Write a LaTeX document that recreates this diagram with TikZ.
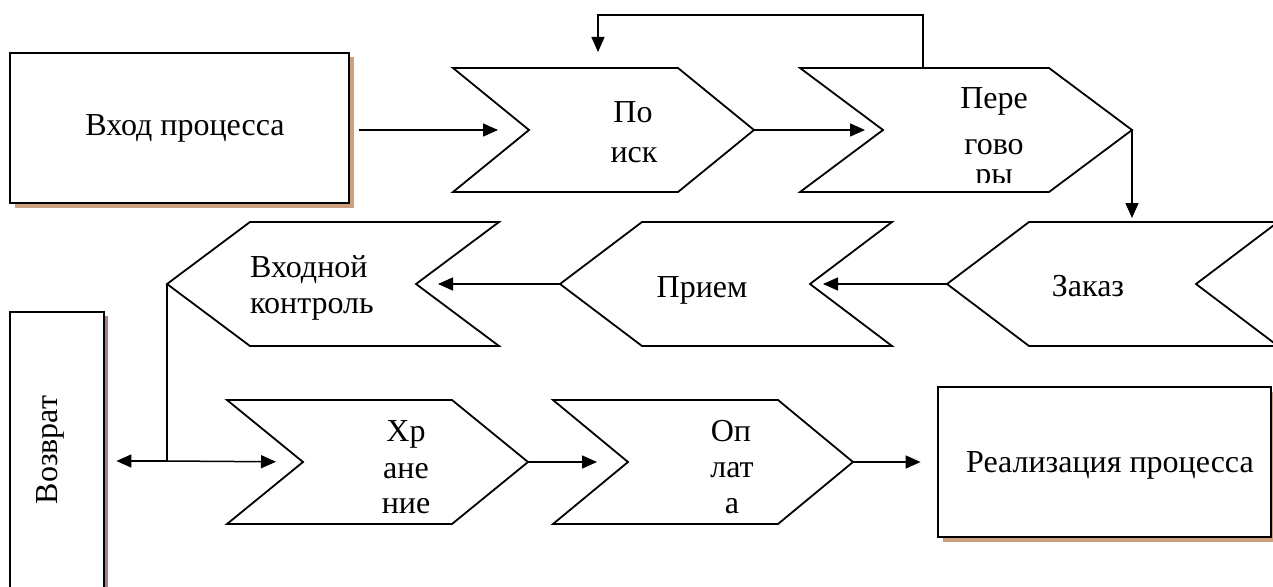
\documentclass[tikz,border=0pt]{standalone}
\usepackage{fontspec}
\setmainfont{Liberation Serif}
\usetikzlibrary{arrows.meta,shadows}
\definecolor{shadowtan}{RGB}{205,160,128}
\definecolor{shadowrose}{RGB}{168,128,128}
\tikzset{
  chev/.style={draw=black, line width=1.8pt, fill=white, line join=miter},
  procbox/.style={draw=black, line width=2.8pt, fill=white, inner sep=0pt},
  link/.style={line width=1.5pt},
  conn/.style={line width=1.5pt, -{Triangle[length=15pt,width=13pt]}},
  lbl/.style={font=\fontsize{32}{38}\selectfont, inner sep=0pt, anchor=base},
}
% right-pointing chevron: name, x-left, x-tip, depth, y-top, y-bottom
\newcommand\rchev[6]{%
  \draw[chev] (#2,#5) -- ({#3-#4},#5) -- (#3,{(#5+#6)/2}) -- ({#3-#4},#6) -- (#2,#6) -- ({#2+#4},{(#5+#6)/2}) -- cycle;
  \coordinate (#1-notch) at ({#2+#4},{(#5+#6)/2});
  \coordinate (#1-tip) at (#3,{(#5+#6)/2});
}
% left-pointing chevron: name, x-tip, x-right, depth, y-top, y-bottom
\newcommand\lchev[6]{%
  \draw[chev] ({#2+#4},#5) -- (#3,#5) -- ({#3-#4},{(#5+#6)/2}) -- (#3,#6) -- ({#2+#4},#6) -- (#2,{(#5+#6)/2}) -- cycle;
  \coordinate (#1-tip) at (#2,{(#5+#6)/2});
  \coordinate (#1-notch) at ({#3-#4},{(#5+#6)/2});
}
\begin{document}
\begin{tikzpicture}[x=1pt,y=-1pt]
\useasboundingbox (0,0) rectangle (1273,586);
\clip (0,0) rectangle (1273,586);

% boxes
\node[procbox, minimum width=339pt, minimum height=150pt,
      drop shadow={shadow xshift=4.5pt, shadow yshift=-4.5pt, fill=shadowtan, opacity=1}]
      (vhod) at (179.5,128) {};
\node[lbl] (vhodtxt) at (185,135) {Вход процесса};

\node[procbox, minimum width=94pt, minimum height=283pt,
      drop shadow={shadow xshift=4pt, shadow yshift=-4pt, fill=shadowrose, opacity=1}]
      (vozvrat) at (57,453.5) {};
\node[lbl, anchor=center, rotate=90] (vozvrattxt) at (50,450) {Возврат};

\node[procbox, minimum width=333pt, minimum height=150pt,
      drop shadow={shadow xshift=4.5pt, shadow yshift=-4.5pt, fill=shadowtan, opacity=1}]
      (real) at (1104.5,462) {};
\node[lbl] (realtxt) at (1110,472) {Реализация процесса};

% chevrons
\rchev{poisk}{453}{754}{76}{68}{192}
\rchev{pereg}{800}{1132}{83}{68}{192}
\lchev{zakaz}{947}{1278}{82}{222}{346}
\lchev{priem}{560}{892}{82}{222}{346}
\lchev{vk}{167}{499}{83}{222}{346}
\rchev{hran}{227}{528}{76}{400}{524}
\rchev{opl}{553}{853}{75}{400}{524}

% chevron texts
\node[lbl] (poisk1) at (633,122) {По};
\node[lbl] (poisk2) at (634,162) {иск};
\begin{scope}
  \clip (900,70) rectangle (1100,182);
  \node[lbl] (pereg1) at (994,108) {Пере};
  \node[lbl] (pereg2) at (994,154) {гово};
  \node[lbl] (pereg3) at (994,184) {ры};
\end{scope}
\node[lbl] (zakaztxt) at (1088,296) {Заказ};
\node[lbl] (priemtxt) at (702,297) {Прием};
\node[lbl, anchor=base west] (vk1) at (250,277) {Входной};
\node[lbl, anchor=base west] (vk2) at (250,313) {контроль};
\node[lbl] (hran1) at (406,441) {Хр};
\node[lbl] (hran2) at (406,478) {ане};
\node[lbl] (hran3) at (406,513) {ние};
\node[lbl] (opl1) at (731,441) {Оп};
\node[lbl] (opl2) at (732,477) {лат};
\node[lbl] (opl3) at (732,513) {а};

% connectors
\coordinate (pereg-fb) at (923,68);
\coordinate (poisk-fb) at (598,68);
\coordinate (zakaz-in) at (1132,222);
\coordinate (junc) at (167,461);

\draw[conn, shorten <=9pt, shorten >=31pt] (vhod.east |- poisk-notch) -- (poisk-notch);
\draw[conn, shorten >=18pt] (poisk-tip) -- (pereg-notch);
\draw[conn, shorten >=16pt] (pereg-fb) -- ++(0,-53) -| (poisk-fb);
\draw[conn, shorten >=4pt] (pereg-tip) -- (zakaz-in);
\draw[conn, shorten >=13pt] (zakaz-tip) -- (priem-notch);
\draw[conn, shorten >=22pt] (priem-tip) -- (vk-notch);
\draw[link] (vk-tip) -- (junc);
\draw[conn, shorten >=11pt] (junc) -- (junc -| vozvrat.east);
\draw[conn, shorten >=27pt] (junc) -- (hran-notch);
\draw[conn, shorten >=31pt] (hran-tip) -- (opl-notch);
\draw[conn, shorten >=16pt] (opl-tip) -- (real.west |- opl-tip);
\end{tikzpicture}
\end{document}
